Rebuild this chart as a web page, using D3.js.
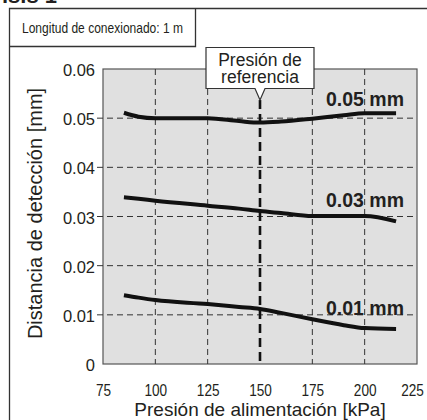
<!DOCTYPE html>
<html>
<head>
<meta charset="utf-8">
<script src="https://cdn.jsdelivr.net/npm/d3@7"></script>
<style>
  body { margin: 0; background: #fff; }
  svg { display: block; }
  text { fill: #231f20; font-family: "Liberation Sans", Arial, sans-serif; }
</style>
</head>
<body>
<svg id="chart" width="427" height="420"></svg>
<script>
// pressure (kPa) sampled along each curve
var pressure = [85, 92, 100, 125, 140, 150, 160, 175, 190, 200, 215];
// detection distance (mm)
var dist005 = [0.0511, 0.0503, 0.0500, 0.0500, 0.0494, 0.0491, 0.0493, 0.0499, 0.0506, 0.0510, 0.0510];
var dist003 = [0.0339, 0.0336, 0.0332, 0.0322, 0.0316, 0.0311, 0.0307, 0.0301, 0.0301, 0.0301, 0.0290];
var dist001 = [0.0140, 0.0135, 0.0130, 0.0122, 0.0116, 0.0112, 0.0104, 0.0091, 0.0079, 0.0073, 0.0071];
var seriesNames = ["0.05 mm", "0.03 mm", "0.01 mm"];
var xTicks = [75, 100, 125, 150, 175, 200, 225];
var yTicks = [0, 0.01, 0.02, 0.03, 0.04, 0.05, 0.06];
var refPressure = 150;

var svg = d3.select("#chart");
// plot box edges (window.top is reserved, so p-prefixed names)
var pLeft = 103, pRight = 417, pTop = 69, pBottom = 364;

var x = d3.scaleLinear().domain([75, 225]).range([pLeft, pRight]);
var y = d3.scaleLinear().domain([0, 0.06]).range([pBottom, pTop]);

// squeeze a text horizontally, like a condensed face
var condense = function(sel, k){
  sel.each(function(){
    var w = this.getComputedTextLength();
    d3.select(this).attr("textLength", w * k).attr("lengthAdjust", "spacingAndGlyphs");
  });
};

// cut-off title at very top
svg.append("text").attr("x", 2).attr("y", 3)
  .attr("font-size", 22).attr("font-weight", "bold").text("ísis 1");

// outer frame + header box
svg.append("path").attr("d", "M9.5,420V8.5H427").attr("fill", "none")
  .attr("stroke", "#333").attr("stroke-width", 1.3);
svg.append("path").attr("d", "M9.5,46.5H195.5V8.5").attr("fill", "none")
  .attr("stroke", "#333").attr("stroke-width", 1.3);
svg.append("text").attr("x", 22).attr("y", 33)
  .attr("font-size", 15).attr("textLength", 161).attr("lengthAdjust", "spacingAndGlyphs")
  .text("Longitud de conexionado: 1 m");

// plot background
svg.append("rect").attr("x", pLeft).attr("y", pTop)
  .attr("width", pRight - pLeft).attr("height", pBottom - pTop)
  .attr("fill", "#e0e0e0").attr("stroke", "#555").attr("stroke-width", 1.2);

// horizontal grid
svg.append("g").selectAll("line")
  .data(yTicks.filter(function(d){ return d > 0 && d < 0.06; }))
  .enter().append("line")
  .attr("x1", pLeft - 6).attr("x2", pRight)
  .attr("y1", function(d){ return y(d); }).attr("y2", function(d){ return y(d); })
  .attr("stroke", "#333").attr("stroke-width", 1).attr("stroke-dasharray", "6,4");

// vertical grid (reference pressure drawn separately)
svg.append("g").selectAll("line")
  .data(xTicks.filter(function(d){ return d > 75 && d < 225 && d != refPressure; }))
  .enter().append("line")
  .attr("x1", function(d){ return x(d); }).attr("x2", function(d){ return x(d); })
  .attr("y1", pTop).attr("y2", pBottom)
  .attr("stroke", "#333").attr("stroke-width", 1).attr("stroke-dasharray", "6,4");

svg.append("line")
  .attr("x1", x(refPressure)).attr("x2", x(refPressure))
  .attr("y1", 100).attr("y2", pBottom)
  .attr("stroke", "#111").attr("stroke-width", 2.6).attr("stroke-dasharray", "9,5");

// axes (labels only)
var yAxis = d3.axisLeft(y).tickValues(yTicks).tickSize(0).tickPadding(8)
  .tickFormat(function(d){ return d === 0 ? "0" : d3.format(".2f")(d); });
var gy = svg.append("g").attr("transform", "translate(" + pLeft + ",0)").call(yAxis);
gy.select(".domain").remove();
gy.selectAll("text").attr("font-size", 16.5).attr("dy", "0.4em")
  .style("font-family", '"Liberation Sans", Arial, sans-serif').attr("fill", "#231f20");

var xAxis = d3.axisBottom(x).tickValues(xTicks).tickSize(0).tickPadding(20);
var gx = svg.append("g").attr("transform", "translate(0," + pBottom + ")").call(xAxis);
gx.select(".domain").remove();
gx.selectAll("text").attr("font-size", 17)
  .style("font-family", '"Liberation Sans", Arial, sans-serif').attr("fill", "#231f20")
  .call(condense, 0.8);
// last label sits a little inside the picture edge
gx.selectAll("text").filter(function(d){ return d === 225; }).attr("x", -5);

// axis titles
svg.append("text").attr("x", x(150)).attr("y", 415.5).attr("text-anchor", "middle")
  .attr("font-size", 19).text("Presión de alimentación [kPa]");
svg.append("text").attr("transform", "translate(42," + ((pTop + pBottom) / 2 - 3) + ") rotate(-90)")
  .attr("text-anchor", "middle").attr("font-size", 20).text("Distancia de detección [mm]");

// curves
var line = d3.line()
  .x(function(d, i){ return x(pressure[i]); })
  .y(function(d){ return y(d); })
  .curve(d3.curveMonotoneX);
var allSeries = [dist005, dist003, dist001];
svg.append("g").selectAll("path").data(allSeries).enter().append("path")
  .attr("d", line).attr("fill", "none").attr("stroke", "#111")
  .attr("stroke-width", 4).attr("stroke-linejoin", "round");

// curve labels
var labelY = [106, 207, 315];
svg.append("g").selectAll("text").data(seriesNames).enter().append("text")
  .attr("x", 404).attr("y", function(d, i){ return labelY[i]; })
  .attr("text-anchor", "end").attr("font-size", 19.5).attr("font-weight", "bold")
  .text(function(d){ return d; });

// reference callout
var cx = x(refPressure);
svg.append("path")
  .attr("d", "M" + (cx - 54) + ",47.5H" + (cx + 54) + "V88.5H" + (cx + 5) + "L" + cx + ",100L" + (cx - 5) + ",88.5H" + (cx - 54) + "Z")
  .attr("fill", "#fff").attr("stroke", "#333").attr("stroke-width", 1.2);
svg.append("text").attr("x", cx).attr("y", 65.5).attr("text-anchor", "middle")
  .attr("font-size", 17.5).text("Presión de");
svg.append("text").attr("x", cx).attr("y", 83).attr("text-anchor", "middle")
  .attr("font-size", 17.5).text("referencia");
</script>
</body>
</html>
